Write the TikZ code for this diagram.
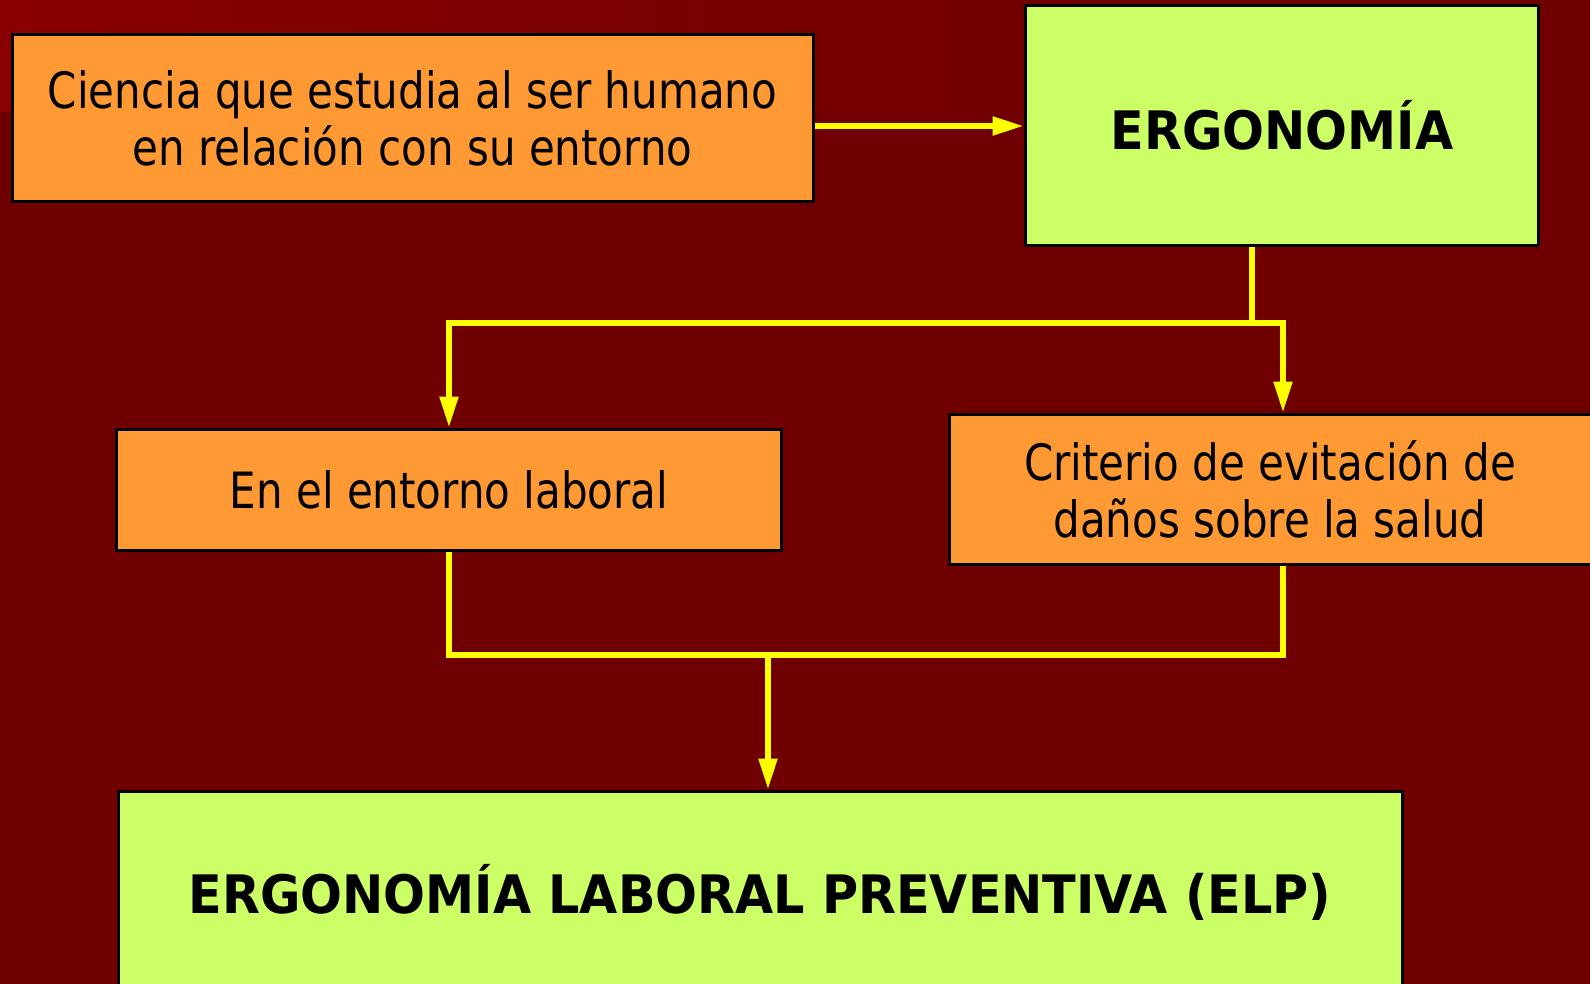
\documentclass[tikz,border=0pt]{standalone}
\usepackage{fontspec}
\usetikzlibrary{arrows.meta}
\newfontfamily\tah[FakeStretch=0.84]{DejaVu Sans}
\newfontfamily\tahb[FakeStretch=0.93]{DejaVu Sans Bold}
\definecolor{bgred}{HTML}{700000}
\definecolor{bgtop}{HTML}{8A0000}
\definecolor{boxor}{HTML}{FF9933}
\definecolor{boxgr}{HTML}{CCFF66}
\definecolor{lnyel}{HTML}{FFFF00}
\tikzset{
  orbox/.style={draw=black,line width=3pt,fill=boxor,inner sep=0pt},
  grbox/.style={draw=black,line width=3pt,fill=boxgr,inner sep=0pt},
  txt/.style={font=\tah\fontsize{50}{57}\selectfont,align=center,text=black,inner sep=0pt},
  btxt/.style={font=\tahb\fontsize{53}{60}\selectfont,align=center,text=black,inner sep=0pt},
  conn/.style={draw=lnyel,line width=5.5pt},
  arr/.style={conn,-{Triangle[length=31pt,width=18pt]}},
}
\begin{document}
\begin{tikzpicture}[x=1pt,y=-1pt]
\useasboundingbox (0,0) rectangle (1590,984);
\fill[bgred] (0,0) rectangle (1590,984);
\shade[left color=bgtop,right color=bgred] (0,0) rectangle (1100,112);
% boxes
\node[orbox,minimum width=801pt,minimum height=167pt] (n1) at (412.5,118.5) {};
\node[txt] (t1) at (n1) {Ciencia que estudia al ser humano\\ en relación con su entorno};
\node[grbox,minimum width=513pt,minimum height=240pt] (n2) at (1281.5,126) {};
\node[btxt] (t2) at (1282,125) {ERGONOMÍA};
\node[orbox,minimum width=665pt,minimum height=121pt] (n3) at (449,489.5) {};
\node[txt] (t3) at (n3) {En el entorno laboral};
\node[orbox,minimum width=651pt,minimum height=150pt] (n4) at (1274.5,489) {};
\node[txt] (t4) at (1270,489) {Criterio de evitación de\\ daños sobre la salud};
\node[grbox,minimum width=1284pt,minimum height=209pt] (n5) at (760,895.5) {};
\node[btxt] (t5) at (760,892) {ERGONOMÍA LABORAL PREVENTIVA (ELP)};
% junction coordinates
\coordinate (j1) at (1252,323);
\coordinate (xr) at (1283,323);
\coordinate (j2) at (768,655);
% connectors
\draw[arr] (n1.east |- n2.west) -- (n2.west);
\draw[conn] (n2.south -| j1) -- (j1);
\draw[arr] (xr) -- (n3.north |- xr) -- (n3.north);
\draw[arr] (j1) -- (xr) -- (n4.north -| xr);
\draw[conn] (n3.south) -- (n3.south |- j2) -- (xr |- j2) -- (n4.south -| xr);
\draw[arr] (j2) -- (n5.north -| j2);
\end{tikzpicture}
\end{document}
